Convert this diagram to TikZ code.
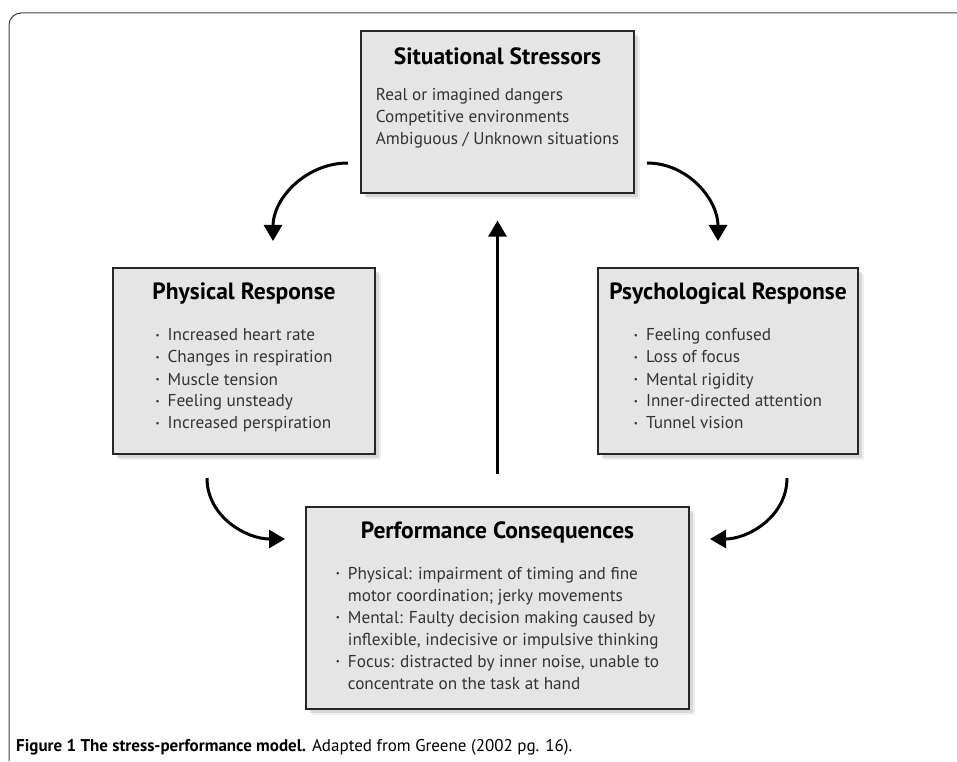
\documentclass[tikz,border=0pt]{standalone}
\usepackage{fontspec}
\setmainfont{PT Sans}
\usetikzlibrary{arrows.meta,shadows,positioning,calc}

\newcommand{\bul}{\raisebox{0.3ex}{\fontsize{9}{9}\selectfont\textbullet}}

\begin{document}
\begin{tikzpicture}[
			x = 1pt, y = 1pt,
			box/.style = {draw=black!85, line width=1.2pt, fill=black!10, inner sep=0pt,
				drop shadow={shadow xshift=6pt, shadow yshift=-6pt, fill=black!12},
				drop shadow={shadow xshift=4pt, shadow yshift=-4pt, fill=black!25}},
			ttl/.style = {font=\fontsize{23.5}{26}\selectfont\bfseries, inner sep=0pt},
			lst/.style = {font=\fontsize{17.2}{22}\selectfont, text=black!80, inner sep=0pt, anchor=north},
			arr/.style = {line width=3pt, -{Triangle[width=18pt,length=16pt]}},
			]
			\useasboundingbox (0,0) rectangle (957,761);

			% frame
			\draw[black!75, line width=1pt] (957,748) -- (21,748) arc[start angle=90, end angle=180, radius=12] -- (9,0);

			% boxes
			\node[box, minimum width=273pt, minimum height=162pt] (sit) at (497.5,649) {};
			\node[box, minimum width=262pt, minimum height=186pt] (phys) at (244,400) {};
			\node[box, minimum width=260pt, minimum height=186pt] (psy) at (728,400) {};
			\node[box, minimum width=383pt, minimum height=202pt] (perf) at (497.5,153) {};

			\node[ttl] (sitT) at ([yshift=-26pt]sit.north) {Situational Stressors};
			\node[lst] (sitL) at ([yshift=-55pt]sit.north) {\begin{tabular}{@{}l@{}}
				Real or imagined dangers\\
				Competitive environments\\
				Ambiguous / Unknown situations
			\end{tabular}};

			\node[ttl] (physT) at ([yshift=-26pt]phys.north) {Physical Response};
			\node[lst] (physL) at ([yshift=-58pt]phys.north) {\begin{tabular}{@{}l@{\hspace{8pt}}l@{}}
				\bul & Increased heart rate\\
				\bul & Changes in respiration\\
				\bul & Muscle tension\\
				\bul & Feeling unsteady\\
				\bul & Increased perspiration
			\end{tabular}};

			\node[ttl] (psyT) at ([yshift=-26pt]psy.north) {Psychological Response};
			\node[lst] (psyL) at ([yshift=-58pt]psy.north) {\begin{tabular}{@{}l@{\hspace{8pt}}l@{}}
				\bul & Feeling confused\\
				\bul & Loss of focus\\
				\bul & Mental rigidity\\
				\bul & Inner-directed attention\\
				\bul & Tunnel vision
			\end{tabular}};

			\node[ttl] (perfT) at ([yshift=-26pt]perf.north) {Performance Consequences};
			\node[lst] (perfL) at ([yshift=-57pt]perf.north) {\begin{tabular}{@{}l@{\hspace{8pt}}l@{}}
				\bul & Physical: impairment of timing and fine\\
				     & motor coordination; jerky movements\\
				\bul & Mental: Faulty decision making caused by\\
				     & inflexible, indecisive or impulsive thinking\\
				\bul & Focus: distracted by inner noise, unable to\\
				     & concentrate on the task at hand
			\end{tabular}};

			% arrows
			\coordinate (tlS) at (348,598);
			\coordinate (tlE) at (273,520);
			\coordinate (trS) at (647,598);
			\coordinate (trE) at (718,520);
			\coordinate (blS) at (207,283);
			\coordinate (blE) at (285,222);
			\coordinate (brS) at (787,283);
			\coordinate (brE) at (710,222);

			\draw[arr] (tlS) to[out=180,in=90] (tlE);
			\draw[arr] (trS) to[out=0,in=90] (trE);
			\draw[arr] (blS) to[out=-90,in=180] (blE);
			\draw[arr] (brS) to[out=-90,in=0] (brE);
			\draw[arr, shorten <=32pt, shorten >=27pt] (perf.north) -- (sit.south);

			\node[anchor=base west, inner sep=0pt, font=\fontsize{17}{20}\selectfont] (cap) at (16,10)
				{\textbf{Figure 1 The stress-performance model.} Adapted from Greene (2002 pg. 16).};

		\end{tikzpicture}
\end{document}
